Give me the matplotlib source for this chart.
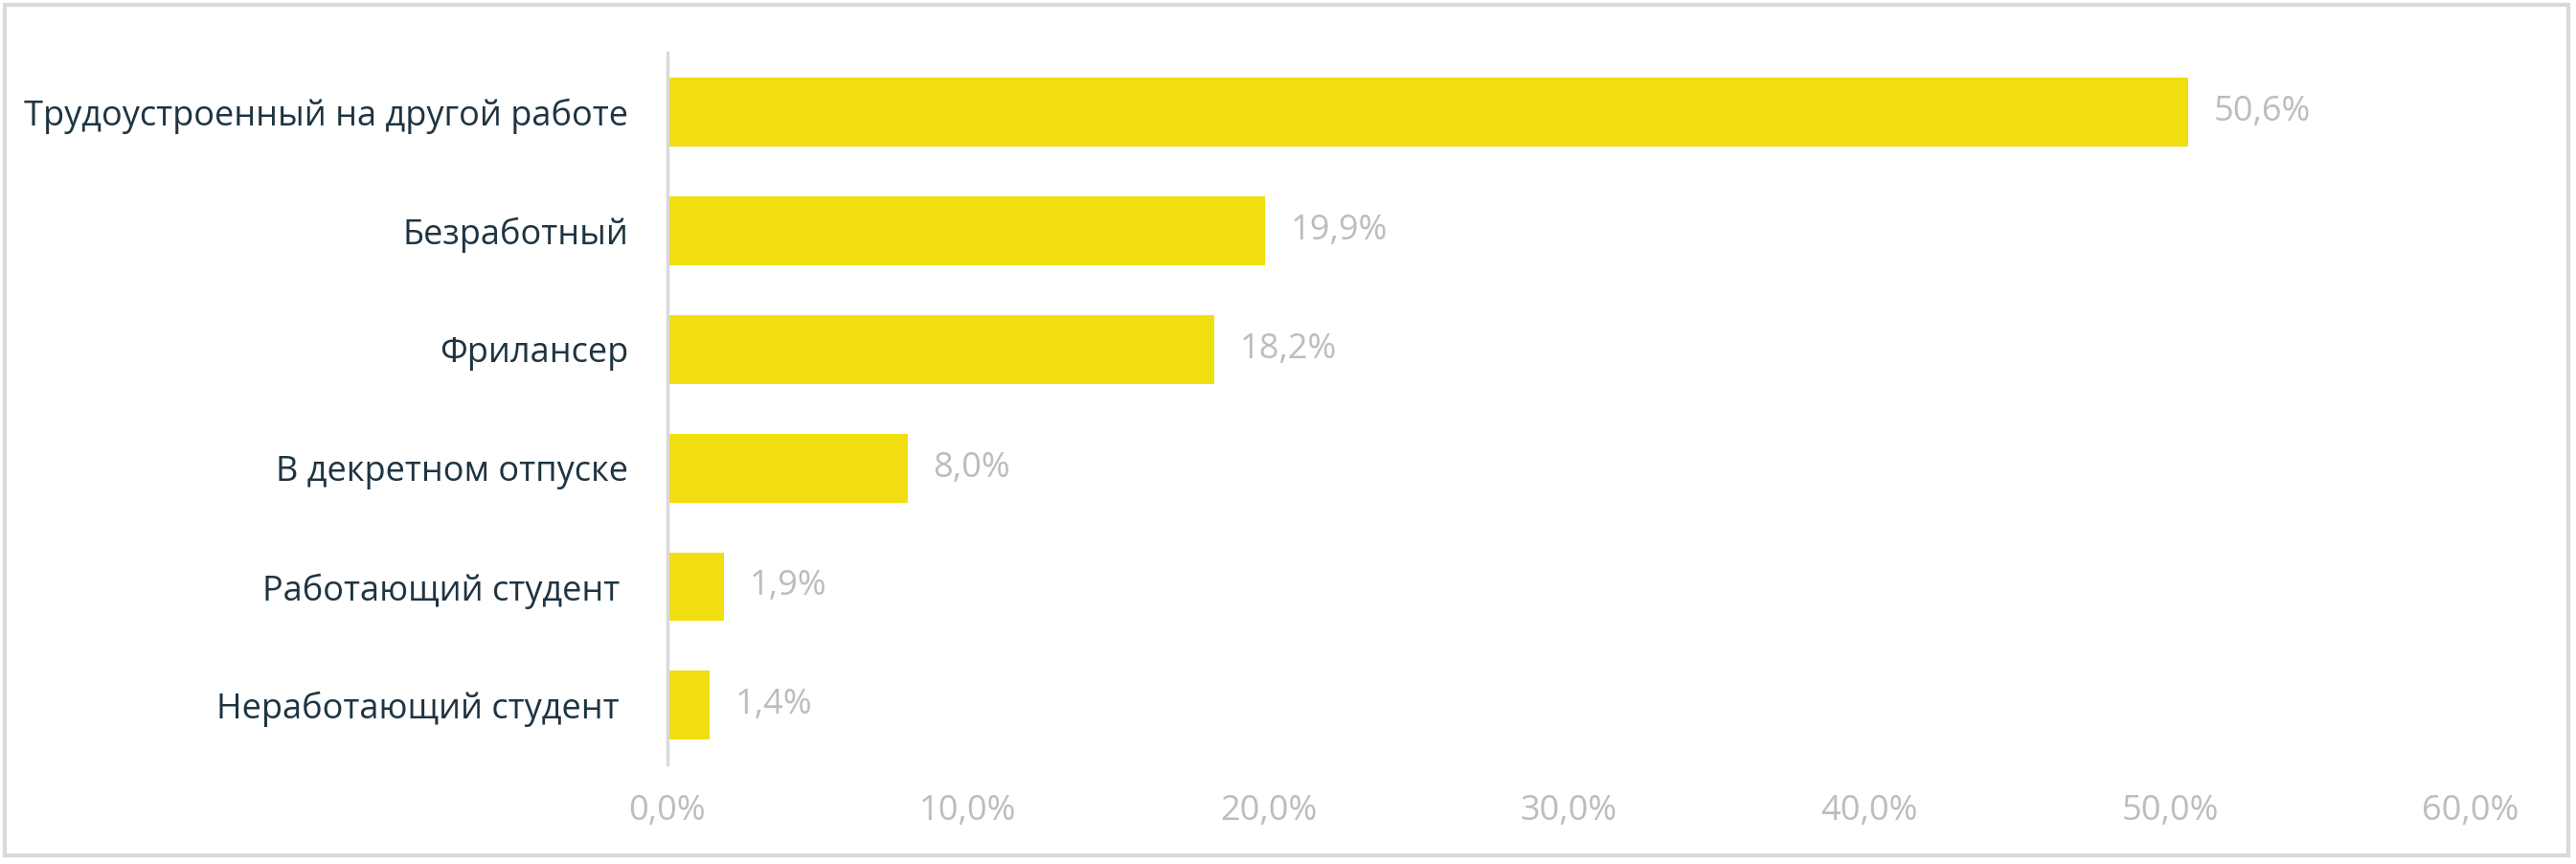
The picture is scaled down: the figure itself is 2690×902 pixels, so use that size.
import matplotlib
import matplotlib.pyplot as plt
import matplotlib.ticker as tkr
from matplotlib.patches import Rectangle

plt.switch_backend('agg')
plt.rcParams['font.family'] = ['Open Sans', 'DejaVu Sans']

categories = ['Трудоустроенный на другой работе', 'Безработный', 'Фрилансер',
              'В декретном отпуске', 'Работающий студент ', 'Неработающий студент ']
values = [50.6, 19.9, 18.2, 8.0, 1.9, 1.4]
xticks = [0, 10, 20, 30, 40, 50, 60]

bar_color = '#F0DE10'
label_color = '#1E3442'
gray_text = '#BDBDBD'
line_color = '#D9D9D9'

fig = plt.figure(figsize=(26.9, 9.02), dpi=100)
ax = fig.add_axes([0.259, 0.115, 0.7, 0.824])

ypos = list(range(len(categories)))[::-1]
ax.barh(ypos, values, height=0.58, color=bar_color, zorder=2)

for y, v in zip(ypos, values):
    ax.text(v + 0.85, y, f'{v:.1f}%'.replace('.', ','), va='center', ha='left',
            fontsize=26, color=gray_text)

ax.set_xlim(0, 60)
ax.set_ylim(-0.5, 5.5)
ax.set_xticks(xticks)
ax.xaxis.set_major_formatter(tkr.FuncFormatter(lambda x, p: f'{x:.1f}%'.replace('.', ',')))
ax.set_yticks(ypos)
ax.set_yticklabels(categories)

for s in ['top', 'right', 'bottom']:
    ax.spines[s].set_visible(False)
ax.spines['left'].set_color(line_color)
ax.spines['left'].set_linewidth(2.5)

ax.tick_params(axis='y', length=0, pad=29, labelsize=26, labelcolor=label_color)
ax.tick_params(axis='x', length=0, pad=22, labelsize=26, labelcolor=gray_text)

fig.patches.append(Rectangle((0.002, 0.01), 0.995, 0.984, transform=fig.transFigure,
                             fill=False, edgecolor=line_color, linewidth=3))

plt.savefig('out.png', dpi=100)
plt.close()
